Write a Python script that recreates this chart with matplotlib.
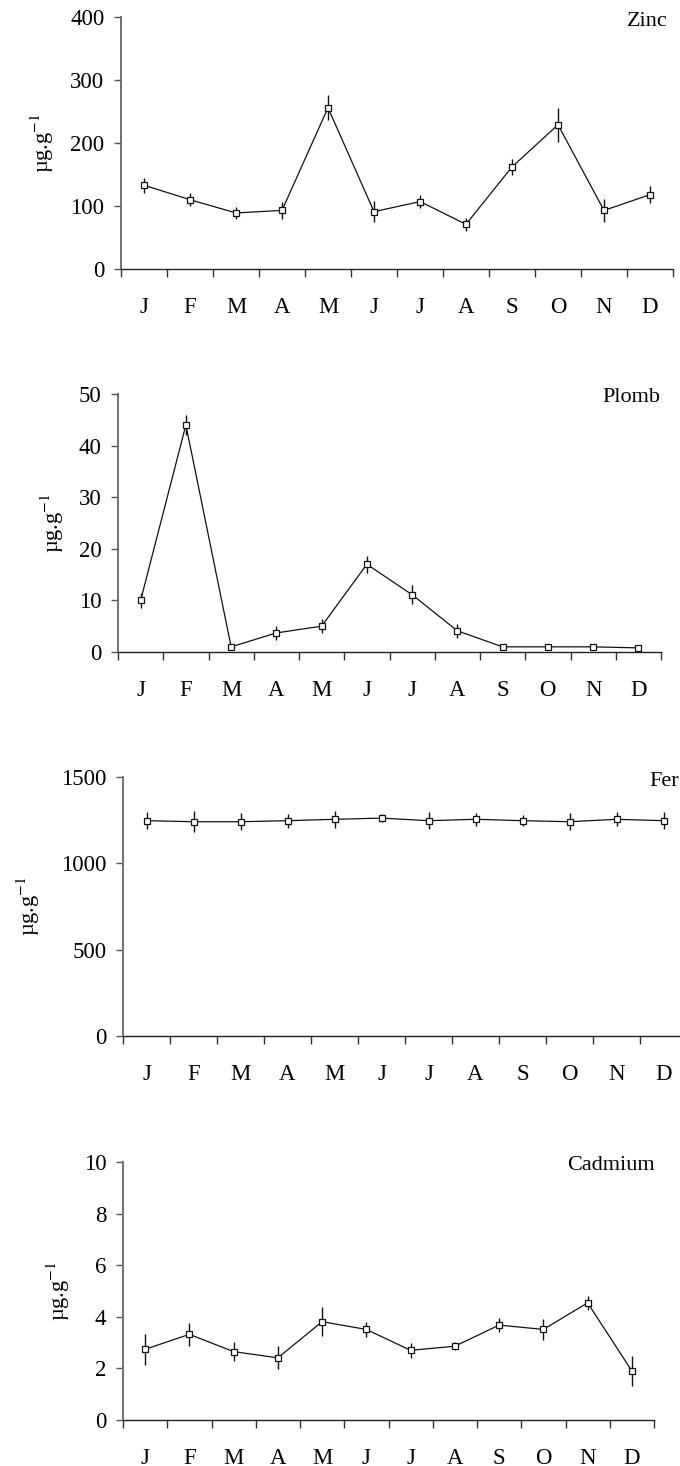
import matplotlib
matplotlib.use("Agg")
import matplotlib.pyplot as plt
import numpy as np

plt.rcParams['font.family'] = ['Liberation Serif', 'DejaVu Serif']
plt.rcParams['mathtext.fontset'] = 'stix'

months = ["J", "F", "M", "A", "M", "J", "J", "A", "S", "O", "N", "D"]

zinc = [133, 110, 89, 93, 256, 91, 107, 71, 162, 229, 93, 118]
zinc_err = [12, 10, 10, 13, 20, 17, 10, 10, 13, 27, 18, 13]

plomb = [10.0, 44.0, 1.0, 3.7, 5.0, 17.0, 11.1, 4.1, 1.0, 1.0, 1.0, 0.8]
plomb_err = [1.5, 2.0, 0.5, 1.3, 1.3, 1.6, 1.8, 1.4, 0.3, 0.3, 0.3, 0.2]

fer = [1247, 1241, 1241, 1247, 1255, 1262, 1247, 1255, 1247, 1241, 1255, 1247]
fer_err = [50, 60, 48, 40, 48, 25, 48, 38, 32, 48, 40, 48]

cadmium = [2.74, 3.32, 2.65, 2.41, 3.81, 3.51, 2.70, 2.86, 3.68, 3.51, 4.54, 1.90]
cadmium_err = [0.60, 0.44, 0.37, 0.45, 0.57, 0.28, 0.28, 0.15, 0.28, 0.39, 0.27, 0.58]

W, H = 680, 1466
fig = plt.figure(figsize=(W / 100, H / 100), dpi=100)

FS = 16.5

# name, values, errors, ymax, yticks, left px, right px, top px, bottom px,
# title right px, title center y px, ylabel center x px
panels = [
    ("Zinc", zinc, zinc_err, 400, [0, 100, 200, 300, 400], 121, 673, 17, 269, 668, 21, 42),
    ("Plomb", plomb, plomb_err, 50, [0, 10, 20, 30, 40, 50], 118, 661, 394, 652, 660, 398, 52),
    ("Fer", fer, fer_err, 1500, [0, 500, 1000, 1500], 123, 687, 777, 1036, 679, 782, 28),
    ("Cadmium", cadmium, cadmium_err, 10, [0, 2, 4, 6, 8, 10], 123, 654, 1162, 1420, 655, 1165, 58),
]

for (name, vals, errs, ymax, yt, lpx, rpx, tpx, bpx, trx, tcy, ylx) in panels:
    ax = fig.add_axes([lpx / W, 1 - bpx / H, (rpx - lpx) / W, (bpx - tpx) / H])
    x = np.arange(len(months)) + 0.5
    ax.errorbar(x, vals, yerr=errs, fmt='none', ecolor='#111111', elinewidth=1.0, capsize=0, zorder=2)
    ax.plot(x, vals, color='#111111', lw=0.9, marker='s', markersize=3.8,
            markerfacecolor='white', markeredgecolor='#111111', markeredgewidth=0.9, zorder=3)
    ax.set_xlim(0, 12)
    ax.set_ylim(0, ymax)
    ax.set_yticks(yt)
    ax.set_yticklabels([str(v) for v in yt], fontsize=FS)
    ax.set_xticks(np.arange(0, 13))
    ax.set_xticklabels([])
    ax.set_xticks(x, minor=True)
    ax.set_xticklabels(months, minor=True, fontsize=FS)
    ax.tick_params(axis='x', which='major', direction='out', length=5.5, width=1.0, color='#333333')
    ax.tick_params(axis='x', which='minor', length=0, pad=20)
    ax.tick_params(axis='y', direction='out', length=5, width=1.0, color='#555555', pad=7)
    for s in ['top', 'right']:
        ax.spines[s].set_visible(False)
    ax.spines['left'].set_color('#666666')
    ax.spines['left'].set_linewidth(1.3)
    ax.spines['bottom'].set_color('#222222')
    ax.spines['bottom'].set_linewidth(1.0)
    ax.patch.set_alpha(0)
    fig.text(trx / W, 1 - tcy / H, name, ha='right', va='center', fontsize=FS - 0.5)
    fig.text(ylx / W, 1 - ((tpx + bpx) / 2) / H, "µg.g$^{-1}$", rotation=90,
             ha='center', va='center', fontsize=FS - 0.5)

fig.savefig("out.png", dpi=100)
